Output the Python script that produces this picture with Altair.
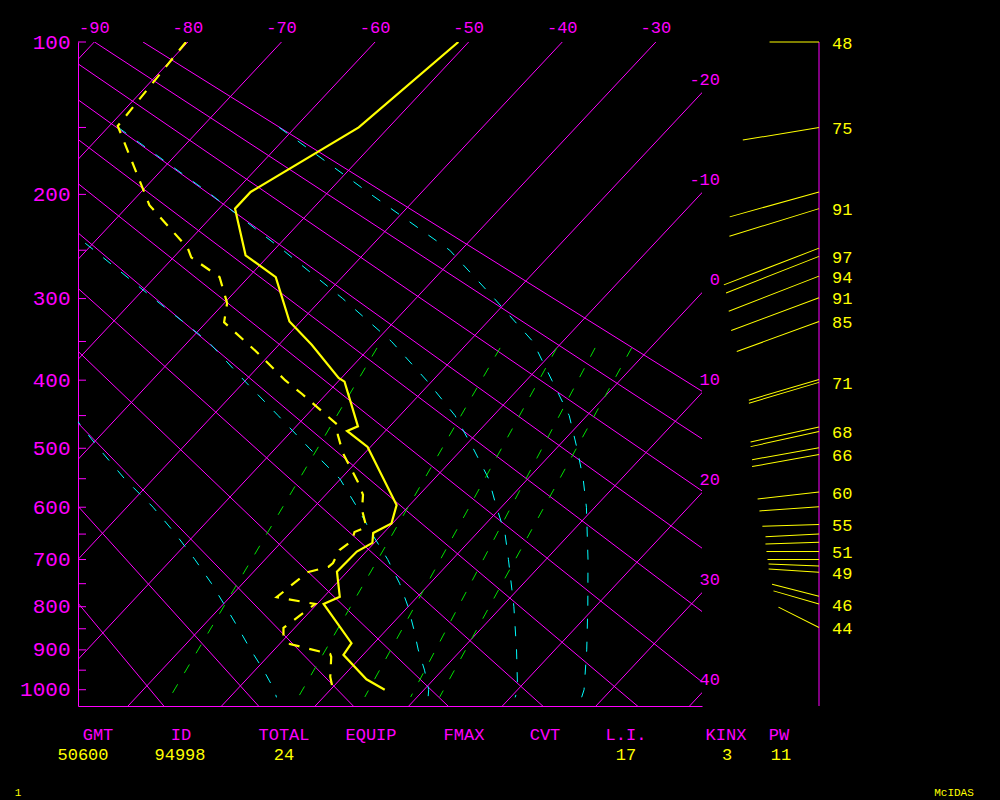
import altair as alt
import pandas as pd
import jinja2

# ---------------- diagram constants (projection of the skew-T) ----------------
KAPPA = 0.286                 # vertical coordinate is p**kappa
S0 = 100 ** KAPPA             # value at the top of the diagram (100 hPa)
SKEW = 18.62                  # degrees C of skew per unit of p**kappa
P_TOP, P_BOT = 100, 1043
X_LEFT, X_RIGHT = -91.74, -25.07

MAG, YEL, CYAN, GRN = "#ff00ff", "#ffff00", "#00ffff", "#00e000"
FONT = "Liberation Mono"

# ---------------- data ----------------
PRESS_LABELS = [100, 200, 300, 400, 500, 600, 700, 800, 900, 1000]
PRESS_TICKS = [100, 150, 200, 250, 300, 350, 400, 450, 500, 550, 600, 650,
               700, 750, 800, 850, 900, 950, 1000]
TOP_T_LABELS = [-90, -80, -70, -60, -50, -40, -30]
RIGHT_T_LABELS = [-20, -10, 0, 10, 20, 30, 40]
ISOTHERMS = [-90, -80, -70, -60, -50, -40, -30, -20, -10, 0, 10, 20, 30, 40]
DRY_THETA_K = [253.9, 263.9, 273.9, 283.9, 293.9, 303.9, 313.9, 323.9,
               333.9, 343.9, 353.9, 363.9]
GRID_P = [100, 1100]

# saturated adiabats (pressure hPa, temperature C)
SAT_P = [
    [150, 200, 250, 300, 350, 400, 450, 500, 550, 600, 700, 800, 900, 1000, 1020],
    [150, 200, 250, 300, 350, 400, 450, 500, 550, 600, 650, 700, 800, 900, 1000, 1020],
    [230, 250, 300, 350, 400, 450, 500, 550, 600, 650, 700, 750, 800, 850, 900, 950, 1000, 1020],
    [400, 450, 500, 550, 600, 650, 700, 750, 800, 850, 900, 950, 1000, 1020],
]
SAT_T = [
    [-61.7, -45.2, -31.2, -21.6, -13.2, -7.3, -1.9, 2.2, 5.9, 9.1, 14.5, 19.2, 23.4, 27.1, 27.6],
    [-78.9, -62.3, -49.0, -37.8, -28.3, -20.7, -14.1, -8.9, -4.2, -0.5, 3.1, 6.0, 11.3, 15.9, 20.0, 20.5],
    [-74.2, -69.2, -58.0, -47.9, -40.2, -33.0, -26.4, -20.1, -15.4, -11.1, -6.9, -3.2, 0.0, 2.8, 5.4, 8.1, 10.5, 11.2],
    [-61.3, -54.9, -48.9, -43.1, -37.2, -32.1, -27.5, -23.3, -19.5, -15.9, -12.5, -9.1, -6.0, -5.0],
]

# mixing-ratio lines (1, 3, 5, 7, 9 g/kg): temperature at top and bottom pressure
MIX_P = [358, 1019]
MIX_T_TOP = [-29.2, -16.05, -10.0, -5.9, -2.0]
MIX_T_BOT = [-16.4, -2.7, 4.4, 9.3, 12.4]

# sounding
TEMP_P = [100, 150, 198, 212, 255, 277, 326, 354, 397, 402, 466, 473, 498, 596,
          630, 648, 667, 684, 725, 778, 794, 884, 912, 973, 1000]
TEMP_C = [-51.1, -53.2, -58.3, -58.3, -52.5, -47.1, -41.2, -36.5, -30.3, -29.3,
          -23.4, -24.1, -20.3, -11.4, -10.1, -11.1, -10.2, -11.0, -11.1, -8.3,
          -9.3, -2.4, -2.1, 2.8, 5.8]
DEW_P = [100, 149, 209, 248, 257, 277, 305, 327, 364, 400, 419, 433, 464, 479,
         508, 556, 578, 605, 637, 646, 663, 681, 707, 715, 726, 779, 794, 848,
         869, 886, 910, 917, 967, 990, 1000]
DEW_C = [-80.2, -79.1, -67.8, -59.4, -58.1, -53.1, -49.7, -48.1, -41.5, -35.8,
         -32.6, -30.4, -25.7, -24.7, -22.3, -17.8, -16.0, -14.6, -12.4, -13.2,
         -12.6, -13.0, -12.4, -12.5, -14.2, -15.0, -10.2, -11.2, -10.3, -8.9,
         -3.6, -3.2, -1.3, -0.2, 1.0]

# winds
WIND_P = [100, 150, 198, 212, 248, 256, 276, 299, 326, 399, 403, 467, 474, 499,
          510, 573, 599, 632, 650, 666, 684, 700, 713, 726, 777, 794, 847]
WIND_DIR = [270, 260.6, 254.4, 252.9, 248.9, 248.5, 248.8, 249.5, 249.9, 253.5,
            253.5, 257.6, 257.6, 259.8, 259.8, 263.5, 265.9, 268.3, 267.1, 268.3,
            270, 270, 272.3, 273.8, 284.3, 286.1, 296.6]
WIND_SPD = [48, 75, 90, 91, 99, 97, 94, 91, 85, 71, 71, 68, 68, 66, 66, 60, 58,
            55, 52, 52, 51, 50, 49, 49, 47, 46, 44]
WIND_LABELED = [1, 1, 0, 1, 0, 1, 1, 1, 1, 0, 1, 0, 1, 0, 1, 1, 0, 1, 0, 0, 1,
                0, 0, 1, 0, 1, 1]

# stability table
TABLE_HEAD = ["GMT", "ID", "TOTAL", "EQUIP", "FMAX", "CVT", "L.I.", "KINX", "PW"]
TABLE_VALS = ["50600", "94998", "24", "", "", "", "17", "3", "11"]

# ---------------- layout (pixels, relative to plot origin) ----------------
HEAD_X = [20, 103, 206, 293, 386, 467, 548, 648, 701]
VAL_X = [5, 102, 206, None, None, None, 548, 649, 703]
HEAD_Y, VAL_Y, FOOT_Y = 693, 713, 751
WIND_AXIS_X = 741
STICK_PX_PER_KT = 1.03

# ---------------- tables ----------------
iso_df = pd.DataFrame([{"line": t, "i": k, "p": pp, "T": t}
                       for t in ISOTHERMS for k, pp in enumerate(GRID_P)])
dry_df = pd.DataFrame([{"line": th, "i": k, "p": pp, "theta": th}
                       for th in DRY_THETA_K for k, pp in enumerate(GRID_P)])
sat_df = pd.DataFrame([{"line": j, "i": k, "p": pp, "T": tt}
                       for j, (ps, ts) in enumerate(zip(SAT_P, SAT_T))
                       for k, (pp, tt) in enumerate(zip(ps, ts))])
mix_df = pd.DataFrame([{"line": j, "i": k, "p": MIX_P[k], "T": (a, b)[k]}
                       for j, (a, b) in enumerate(zip(MIX_T_TOP, MIX_T_BOT))
                       for k in range(2)])
temp_df = pd.DataFrame({"p": TEMP_P, "T": TEMP_C, "i": range(len(TEMP_P))})
dew_df = pd.DataFrame({"p": DEW_P, "T": DEW_C, "i": range(len(DEW_P))})
wind_df = pd.DataFrame({"p": WIND_P, "dir": WIND_DIR, "spd": WIND_SPD,
                        "lab": WIND_LABELED})
tick_df = pd.DataFrame({"p": PRESS_TICKS})
top_df = pd.DataFrame({"T": TOP_T_LABELS, "p": 100,
                       "lab": [str(v) for v in TOP_T_LABELS]})
right_df = pd.DataFrame({"T": RIGHT_T_LABELS,
                         "lab": [str(v) for v in RIGHT_T_LABELS]})
one = pd.DataFrame({"a": [0]})

SKEW_EXPR = f"datum.T - {SKEW} * (pow(datum.p, {KAPPA}) - {S0})"

XS = alt.Scale(domain=[X_LEFT, X_RIGHT], nice=False, zero=False)
YS = alt.Scale(type="pow", exponent=KAPPA, domain=[P_TOP, P_BOT],
               reverse=True, nice=False, zero=False)

AX = alt.Axis(labels=False, ticks=False, tickSize=0, domainColor=MAG,
              domainWidth=1, grid=False, title=None)
AY = alt.Axis(values=PRESS_LABELS, format="d", labelColor=MAG, labelFont=FONT,
              labelFontSize=21, ticks=False, tickSize=0, domainColor=MAG,
              domainWidth=1, grid=False, title=None, labelPadding=8,
              labelOverlap=False, labelFlush=False)


def X(field):
    return alt.X(field, scale=XS, axis=AX)


def Y(field):
    return alt.Y(field, scale=YS, axis=AY)


def line_layer(df, color, width=1.0, dash=None, pre=None):
    mk = dict(color=color, strokeWidth=width, clip=True)
    if dash:
        mk["strokeDash"] = dash
    ch = alt.Chart(df).mark_line(**mk)
    if pre is not None:
        ch = ch.transform_calculate(T=pre)
    enc = dict(x=X("sx:Q"), y=Y("p:Q"), order=alt.Order("i:Q"))
    if "line" in df.columns:
        enc["detail"] = alt.Detail("line:N")
    return ch.transform_calculate(sx=SKEW_EXPR).encode(**enc)


isotherms = line_layer(iso_df, MAG)
dry = line_layer(dry_df, MAG,
                 pre=f"datum.theta * pow(datum.p / 1000, {KAPPA}) - 273.15")
sat = line_layer(sat_df, CYAN, dash=[10, 13])
mix = line_layer(mix_df, GRN, dash=[10, 13])
temp = line_layer(temp_df, YEL, width=2.2)
dew = line_layer(dew_df, YEL, width=2.2, dash=[11, 10])

ticks = alt.Chart(tick_df).mark_rule(color=MAG, strokeWidth=1).encode(
    y=Y("p:Q"), x=alt.value(0), x2=alt.value(8))

top_labels = alt.Chart(top_df).mark_text(
    color=MAG, font=FONT, fontSize=17, align="center", baseline="middle", dy=-14
).transform_calculate(sx=SKEW_EXPR).encode(x=X("sx:Q"), y=Y("p:Q"), text="lab:N")

right_labels = alt.Chart(right_df).mark_text(
    color=MAG, font=FONT, fontSize=17, align="right", baseline="middle", dy=-13
).transform_calculate(
    p=f"pow({S0} + (datum.T - ({X_RIGHT})) / {SKEW}, {1 / KAPPA})"
).encode(x=alt.value(642), y=Y("p:Q"), text="lab:N")

wind_axis = alt.Chart(one).mark_rule(color=MAG, strokeWidth=1).encode(
    x=alt.value(WIND_AXIS_X), y=alt.value(0), y2=alt.value(664))

sticks = alt.Chart(wind_df).mark_point(
    shape="M0,0L0,-2", filled=False, color=YEL, strokeWidth=1, opacity=1
).transform_calculate(
    sz=f"pow(datum.spd * {STICK_PX_PER_KT}, 2)"
).encode(
    x=alt.value(WIND_AXIS_X),
    y=Y("p:Q"),
    angle=alt.Angle("dir:Q", scale=None),
    size=alt.Size("sz:Q", scale=None),
)

wind_labels = alt.Chart(wind_df).mark_text(
    color=YEL, font=FONT, fontSize=17, align="left", baseline="middle", dx=13, dy=1.5
).transform_filter("datum.lab == 1").encode(
    x=alt.value(WIND_AXIS_X), y=Y("p:Q"), text=alt.Text("spd:Q", format="d"))

table = []
for name, cx in zip(TABLE_HEAD, HEAD_X):
    table.append(alt.Chart(one).mark_text(
        text=name, color=MAG, font=FONT, fontSize=17, align="center",
        baseline="middle").encode(x=alt.value(cx), y=alt.value(HEAD_Y)))
for val, cx in zip(TABLE_VALS, VAL_X):
    if val:
        table.append(alt.Chart(one).mark_text(
            text=val, color=YEL, font=FONT, fontSize=17, align="center",
            baseline="middle").encode(x=alt.value(cx), y=alt.value(VAL_Y)))
table.append(alt.Chart(one).mark_text(
    text="1", color=YEL, font=FONT, fontSize=11, align="center",
    baseline="middle").encode(x=alt.value(-60), y=alt.value(FOOT_Y)))
table.append(alt.Chart(one).mark_text(
    text="McIDAS", color=YEL, font=FONT, fontSize=11, align="center",
    baseline="middle").encode(x=alt.value(876), y=alt.value(FOOT_Y)))

chart = alt.layer(
    isotherms, dry, sat, mix, ticks, temp, dew, top_labels, right_labels,
    wind_axis, sticks, wind_labels, *table
).properties(
    width=624, height=664, background="black",
    padding={"left": 70, "top": 34, "right": 288, "bottom": 100},
    autosize=alt.AutoSizeParams(type="none"),
).configure_view(stroke=None)

PAGE = jinja2.Template("""<!DOCTYPE html>
<html>
<head>
<meta charset="utf-8">
<style>html, body { background: #000000; overflow: hidden; } body { margin: 8px; }</style>
<script type="text/javascript" src="{{ base_url }}/vega@{{ vega_version }}"></script>
<script type="text/javascript" src="{{ base_url }}/vega-lite@{{ vegalite_version }}"></script>
<script type="text/javascript" src="{{ base_url }}/vega-embed@{{ vegaembed_version }}"></script>
</head>
<body>
<div id="{{ output_div }}"></div>
<script type="text/javascript">
vegaEmbed("#{{ output_div }}", {{ spec }}, {{ embed_options }});
</script>
</body>
</html>""")

try:
    chart.save("out.html", embed_options={"renderer": "svg", "actions": False},
               template=PAGE)
except Exception:
    chart.save("out.html", embed_options={"renderer": "svg", "actions": False})
